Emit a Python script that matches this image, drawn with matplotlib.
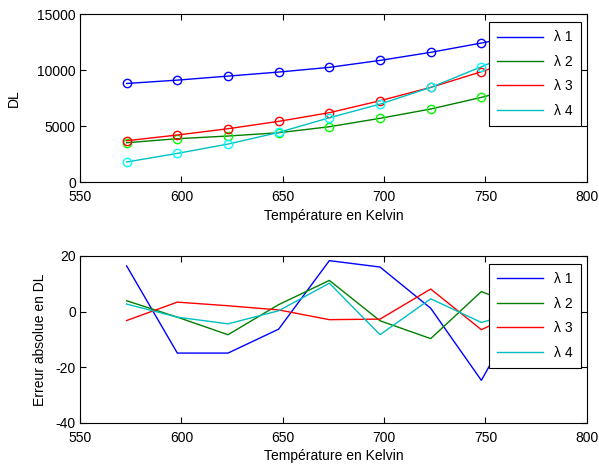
import matplotlib
matplotlib.use("Agg")
import matplotlib.pyplot as plt

plt.rcParams['font.family'] = ['Liberation Sans', 'DejaVu Sans']
plt.rcParams['font.size'] = 10
plt.rcParams['axes.unicode_minus'] = False

temp = [573, 598, 623, 648, 673, 698, 723, 748, 773]
labels = ['λ 1', 'λ 2', 'λ 3', 'λ 4']

# niveaux DL
dl1 = [8800, 9100, 9460, 9820, 10240, 10860, 11580, 12410, 13300]
dl2 = [3510, 3870, 4110, 4400, 4940, 5690, 6520, 7560, 8700]
dl3 = [3690, 4200, 4760, 5420, 6190, 7260, 8450, 9850, 11400]
dl4 = [1790, 2560, 3390, 4430, 5740, 6960, 8450, 10290, 12200]

# erreur absolue
err1 = [16.4, -14.9, -14.9, -6.3, 18.3, 16.0, 1.2, -24.7, 8.0]
err2 = [3.9, -2.0, -8.3, 2.5, 11.2, -3.3, -9.7, 7.2, 0.0]
err3 = [-3.2, 3.4, 2.1, 0.6, -2.9, -2.7, 8.1, -6.5, 2.0]
err4 = [2.7, -2.0, -4.4, 0.3, 10.2, -8.3, 4.6, -3.9, 1.0]

line_col = ['#0000ff', '#008000', '#ff0000', '#00bfbf']
mark_col = ['#0000ff', '#00ff00', '#ff0000', '#00ffff']

fig = plt.figure(figsize=(5.99, 4.68), dpi=100)
ax1 = fig.add_axes([0.1336, 0.611, 0.846, 0.359])
ax2 = fig.add_axes([0.1336, 0.0962, 0.846, 0.357])

for d, lc, mc, lab in zip([dl1, dl2, dl3, dl4], line_col, mark_col, labels):
    ax1.plot(temp, d, color=lc, lw=1, label=lab)
    ax1.plot(temp, d, 'o', mfc='none', mec=mc, ms=6, mew=1)

for e, lc, lab in zip([err1, err2, err3, err4], line_col, labels):
    ax2.plot(temp, e, color=lc, lw=1, label=lab)

ax1.set_xlim(550, 800)
ax1.set_ylim(0, 15000)
ax1.set_yticks([0, 5000, 10000, 15000])
ax1.set_ylabel('DL', labelpad=12)
ax1.set_xlabel('Température en Kelvin', labelpad=3)

ax2.set_xlim(550, 800)
ax2.set_ylim(-40, 20)
ax2.set_yticks([-40, -20, 0, 20])
ax2.set_ylabel('Erreur absolue en DL', labelpad=6)
ax2.set_xlabel('Température en Kelvin', labelpad=3)

for ax in (ax1, ax2):
    ax.set_xticks([550, 600, 650, 700, 750, 800])
    ax.tick_params(direction='in', top=True, right=True, length=4, width=0.8)
    ax.tick_params(axis='x', pad=6)
    ax.tick_params(axis='y', pad=3)
    for s in ax.spines.values():
        s.set_linewidth(0.8)
    leg = ax.legend(loc='upper right', bbox_to_anchor=(0.989, 0.952), borderaxespad=0,
                    fancybox=False, framealpha=1, edgecolor='black', handlelength=3.3,
                    labelspacing=0.75, borderpad=0.6, handletextpad=0.8)
    leg.get_frame().set_linewidth(0.8)

fig.savefig('out.png', dpi=100)
